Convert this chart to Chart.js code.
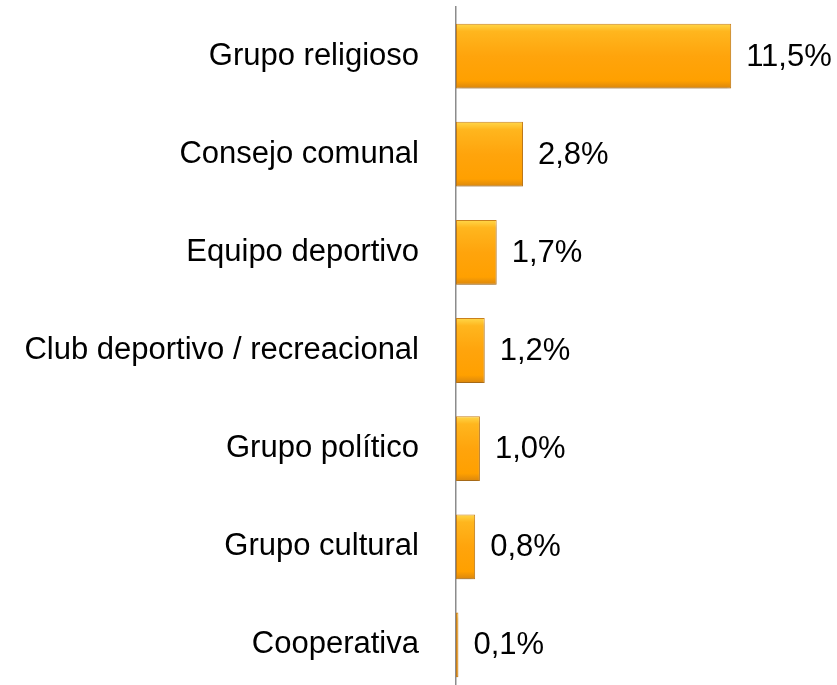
<!DOCTYPE html>
<html>
<head>
<meta charset="utf-8">
<script src="https://cdn.jsdelivr.net/npm/chart.js@4/dist/chart.umd.min.js"></script>
<style>
  html, body { margin: 0; padding: 0; background: #fff; overflow: hidden; }
  canvas { display: block; }
</style>
</head>
<body>
<canvas id="myChart" width="837" height="694"></canvas>
<script>
const categories = [
    'Grupo religioso',
    'Consejo comunal',
    'Equipo deportivo',
    'Club deportivo / recreacional',
    'Grupo político',
    'Grupo cultural',
    'Cooperativa'
]
const values = [11.5, 2.8, 1.7, 1.2, 1.0, 0.8, 0.1]

const FONT = 'Arial, "Liberation Sans", sans-serif'

// gradient per bar, built from the category scale position
const barFill = (c) => {
    const chart = c.chart
    const s = chart.scales && chart.scales.y
    if (!s || !chart.chartArea) return '#FFA40C'
    const yc = s.getPixelForValue(c.dataIndex)
    const h = 65
    const g = chart.ctx.createLinearGradient(0, yc - h / 2, 0, yc + h / 2)
    g.addColorStop(0, '#FFD84A')
    g.addColorStop(0.12, '#FFB61E')
    g.addColorStop(0.5, '#FFA40C')
    g.addColorStop(0.88, '#FFA000')
    g.addColorStop(1, '#D9860E')
    return g
}

const shadowPlugin = {
    id: 'shadow',
    beforeDatasetDraw(chart) {
        const ctx = chart.ctx
        ctx.save()
        ctx.shadowColor = 'rgba(0,0,0,0.18)'
        ctx.shadowBlur = 3
        ctx.shadowOffsetY = 5
    },
    afterDatasetDraw(chart) {
        chart.ctx.restore()
    }
}

const valueLabels = {
    id: 'valueLabels',
    afterDatasetsDraw(chart) {
        const ctx = chart.ctx
        const meta = chart.getDatasetMeta(0)
        ctx.save()
        ctx.font = '31px ' + FONT
        ctx.fillStyle = '#000'
        ctx.textAlign = 'left'
        ctx.textBaseline = 'middle'
        meta.data.forEach((bar, i) => {
            const txt = values[i].toFixed(1).replace('.', ',') + '%'
            ctx.fillText(txt, bar.x + 15, bar.y + 1)
        })
        ctx.restore()
    }
}

const ctx = document.getElementById('myChart').getContext('2d')

const myChart = new Chart(ctx, {
    type: 'bar',
    data: {
        labels: categories,
        datasets: [{
            data: values,
            backgroundColor: barFill,
            borderColor: '#C9801C',
            borderWidth: 1,
            borderSkipped: false,
            categoryPercentage: 1,
            barPercentage: 0.66
        }]
    },
    options: {
        indexAxis: 'y',
        responsive: false,
        animation: false,
        layout: { padding: { top: 7, right: 46, bottom: 0, left: 0 } },
        plugins: {
            legend: { display: false },
            tooltip: { enabled: false }
        },
        scales: {
            x: {
                display: false,
                min: 0,
                max: 14
            },
            y: {
                afterFit: (scale) => {
                    scale.width = 456
                    scale.paddingTop = 0
                    scale.paddingBottom = 0
                },
                grid: { display: false, drawTicks: false },
                border: { display: true, color: '#8c8c8c', width: 1.5 },
                ticks: {
                    color: '#000',
                    padding: 37,
                    font: { family: FONT, size: 31 }
                }
            }
        }
    },
    plugins: [shadowPlugin, valueLabels]
})
</script>
</body>
</html>
